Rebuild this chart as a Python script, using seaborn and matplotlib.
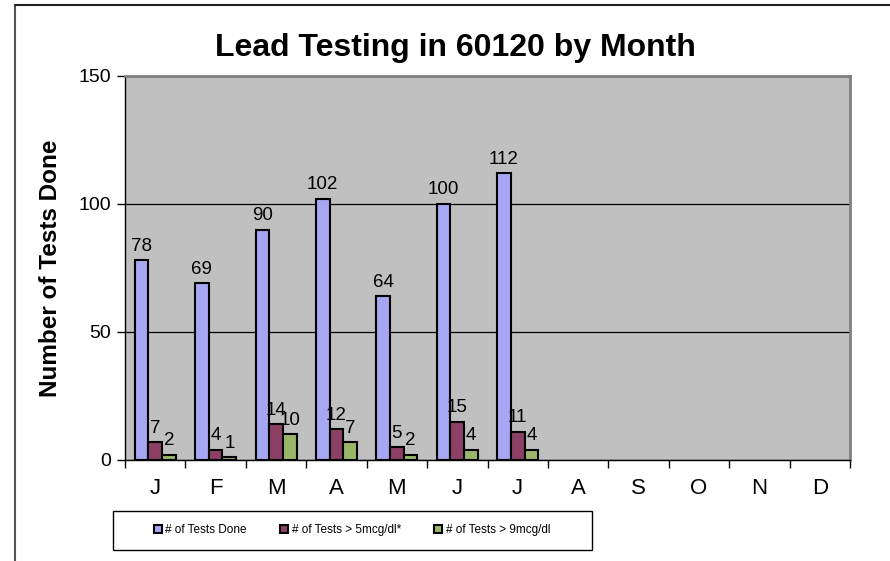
import pandas as pd
import numpy as np
import matplotlib.pyplot as plt
import seaborn as sns
from matplotlib.lines import Line2D
from matplotlib.patches import Rectangle

# du lieu doc tu bieu do
months = ["J", "F", "M", "A", "M", "J", "J", "A", "S", "O", "N", "D"]
tests_done = [78, 69, 90, 102, 64, 100, 112]
tests_over5 = [7, 4, 14, 12, 5, 15, 11]
tests_over9 = [2, 1, 10, 7, 2, 4, 4]
series_names = ["# of Tests Done", "# of Tests > 5mcg/dl*", "# of Tests > 9mcg/dl"]
colors = ["#9999FF", "#993366", "#9DC35C"]

rows = []
for name, vals in zip(series_names, [tests_done, tests_over5, tests_over9]):
    for i, v in enumerate(vals):
        rows.append({"month": i, "series": name, "value": v})
df = pd.DataFrame(rows)

sns.set_style("white")
plt.rcParams["font.family"] = ["Liberation Sans", "DejaVu Sans"]
for k in ["text.color", "axes.labelcolor", "xtick.color", "ytick.color"]:
    plt.rcParams[k] = "black"

fig = plt.figure(figsize=(8.9, 5.61), dpi=100)
ax = fig.add_axes([125 / 890, 101 / 561, 725 / 890, 384 / 561])
ax.set_facecolor("#C0C0C0")

sns.barplot(data=df, x="month", y="value", hue="series", order=list(range(12)),
            hue_order=series_names, palette=colors, width=0.68,
            edgecolor="black", linewidth=1.5, ax=ax, legend=True)

for cont in ax.containers:
    ax.bar_label(cont, fontsize=13.5, padding=4)

ax.set_ylim(0, 150)
ax.set_xlim(-0.5, 11.5)
ax.set_yticks([0, 50, 100, 150])
ax.yaxis.grid(True, color="black", linewidth=0.9)
ax.set_axisbelow(True)
ax.tick_params(axis="y", labelsize=14, length=6, width=1, direction="out", left=True, pad=4)

# nhan thang o giua, vach o ranh gioi nhom
ax.set_xticks(range(12))
ax.set_xticklabels(months, fontsize=16)
ax.set_xticks(np.arange(-0.5, 12, 1), minor=True)
ax.tick_params(axis="x", which="major", length=0, pad=13)
ax.tick_params(axis="x", which="minor", length=6, width=1, direction="out", bottom=True)

ax.set_xlabel("")
ax.set_ylabel("Number of Tests Done", fontsize=17.5, fontweight="bold", labelpad=12)

for side in ["left", "bottom"]:
    ax.spines[side].set_color("black")
    ax.spines[side].set_linewidth(1)
for side in ["top", "right"]:
    ax.spines[side].set_color("#808080")
    ax.spines[side].set_linewidth(2)

fig.suptitle("Lead Testing in 60120 by Month", x=455 / 890, y=1 - 33 / 561,
             fontsize=23, fontweight="bold", va="top")

handles, labels = ax.get_legend_handles_labels()
ax.get_legend().remove()
fig.add_artist(Rectangle((113 / 890, 11 / 561), 479 / 890, 39 / 561, fill=False,
                         edgecolor="black", lw=1, transform=fig.transFigure))
leg = fig.legend(handles, labels, loc="center", ncol=3,
                 bbox_to_anchor=(352 / 890, 1 - 530 / 561),
                 fontsize=8.5, frameon=False,
                 handlelength=0.7, handleheight=0.7, handletextpad=0.3,
                 columnspacing=2.8)

# khung ngoai (bi cat o phai va duoi)
fig.add_artist(Line2D([15 / 890, 15 / 890], [0, 1 - 5 / 561], color="#555555", lw=1.5, transform=fig.transFigure))
fig.add_artist(Line2D([15 / 890, 1], [1 - 5 / 561, 1 - 5 / 561], color="#222222", lw=1.5, transform=fig.transFigure))

plt.savefig("out.png", dpi=100)
plt.close(fig)
